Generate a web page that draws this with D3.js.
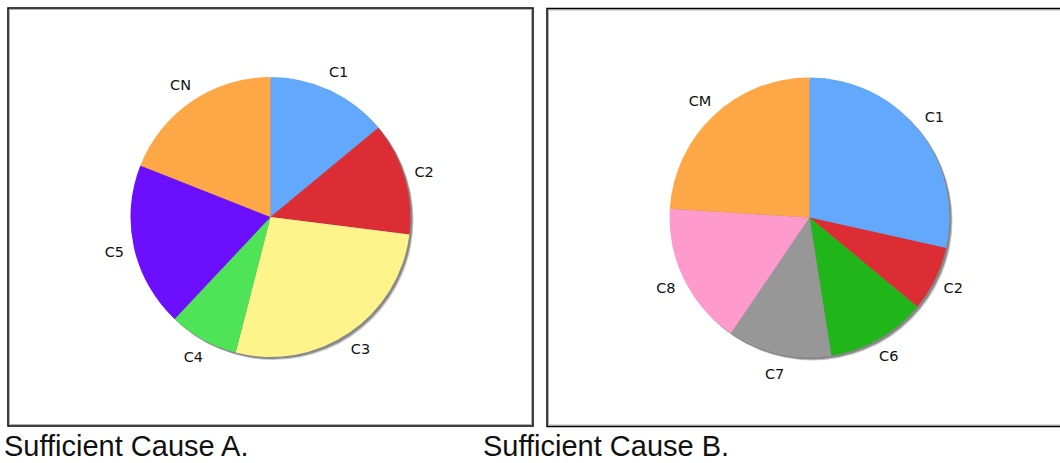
<!DOCTYPE html>
<html>
<head>
<meta charset="utf-8">
<script src="https://cdn.jsdelivr.net/npm/d3@7"></script>
<style>
  html, body { margin: 0; padding: 0; background: #fff; }
  svg { display: block; }
</style>
</head>
<body>
<svg id="chart" width="1060" height="463"></svg>
<script>
// ---- Data ----
const categoriesA = ["C1", "C2", "C3", "C4", "C5", "CN"];
const valuesA     = [14, 13, 27, 8, 19, 19];
const captionA    = "Sufficient Cause A.";

const categoriesB = ["C1", "C2", "C6", "C7", "C8", "CM"];
const valuesB     = [28.5, 7.5, 11.5, 12, 16.5, 24];
const captionB    = "Sufficient Cause B.";

const colorCategories = ["C1", "C2", "C3", "C4", "C5", "CN", "C6", "C7", "C8", "CM"];
const colorValues     = ["#62a8fd", "#dd2d34", "#fff48c", "#4fe357", "#6b0ffe", "#fda746",
                         "#20b518", "#979797", "#fe9bcc", "#fda746"];

// ---- Drawing ----
const svg = d3.select("#chart");
const color = d3.scaleOrdinal().domain(colorCategories).range(colorValues);

const panelW = 525, panelH = 418, radius = 140, labelR = 160;

function drawPanel(x0, y0, cats, vals, caption, capX) {
  const g = svg.append("g").attr("transform", `translate(${x0},${y0})`);
  // frame
  g.append("rect")
    .attr("x", 1.5).attr("y", 1.5)
    .attr("width", panelW - 3).attr("height", panelH - 3)
    .attr("fill", "none").attr("stroke", "#b0b0b0").attr("stroke-width", 1);
  g.append("rect")
    .attr("x", 0).attr("y", 0)
    .attr("width", panelW).attr("height", panelH)
    .attr("fill", "none").attr("stroke", "#000").attr("stroke-width", 1.5);

  const data = cats.map((c, i) => ({ name: c, value: vals[i] }));
  const pie = d3.pie().sort(null).value(d => d.value);
  const arcs = pie(data);
  const arc = d3.arc().innerRadius(0).outerRadius(radius);
  const labelArc = d3.arc().innerRadius(labelR).outerRadius(labelR);

  const cx = panelW / 2, cy = panelH / 2;
  const pg = g.append("g").attr("transform", `translate(${cx},${cy})`);

  // shadow
  pg.append("circle").attr("cx", 3).attr("cy", 3).attr("r", radius)
    .attr("fill", "#c8c8c8");
  pg.append("circle").attr("cx", 2).attr("cy", 2).attr("r", radius)
    .attr("fill", "#888");

  pg.selectAll("path.slice").data(arcs).join("path")
    .attr("class", "slice")
    .attr("d", arc)
    .attr("fill", d => color(d.data.name));

  pg.selectAll("text.lbl").data(arcs).join("text")
    .attr("class", "lbl")
    .attr("transform", d => `translate(${labelArc.centroid(d)})`)
    .attr("text-anchor", "middle")
    .attr("dominant-baseline", "central")
    .attr("font-family", "DejaVu Sans, Verdana, sans-serif")
    .attr("font-size", 14.5)
    .attr("fill", "#111")
    .text(d => d.data.name);

  svg.append("text")
    .attr("x", capX).attr("y", 456)
    .attr("font-family", "Liberation Sans, Arial, sans-serif")
    .attr("font-size", 29)
    .attr("fill", "#111")
    .text(caption);
}

drawPanel(8, 8, categoriesA, valuesA, captionA, 4);
drawPanel(547, 8.5, categoriesB, valuesB, captionB, 483);
</script>
</body>
</html>
